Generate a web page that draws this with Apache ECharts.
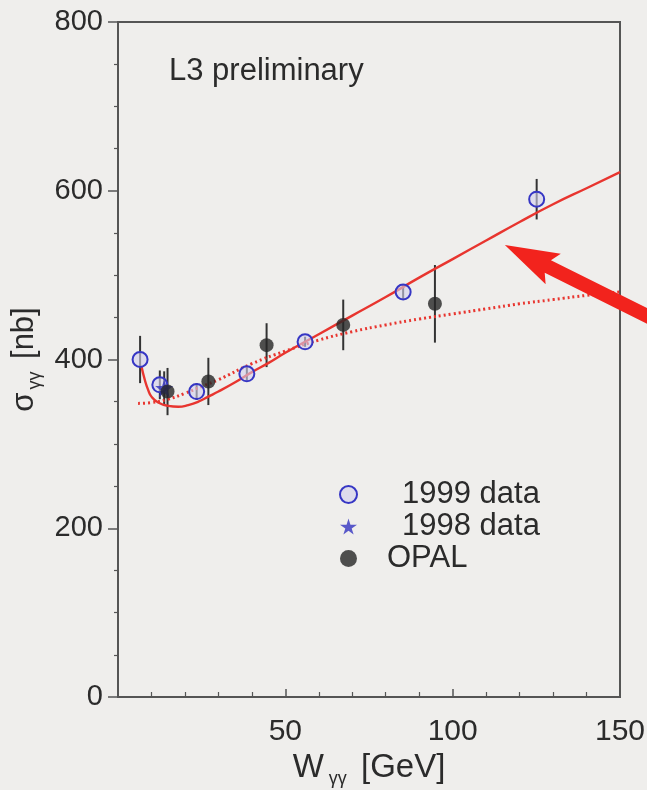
<!DOCTYPE html>
<html><head><meta charset="utf-8">
<script src="https://cdn.jsdelivr.net/npm/echarts@6/dist/echarts.min.js"></script>
<style>html,body{margin:0;padding:0;background:#efeeec;} #c{width:647px;height:790px;}</style>
</head><body><div id="c"></div>
<script>
// ---- data ----
const c1999X = [6.6, 12.5, 23.5, 38.5, 55.9, 85.2, 125.1];
const c1999Y = [400, 370, 362, 383, 421, 480, 590];
const c1999Err = [28, 17, 10, 8, 6, 9, 24];
const c1998X = [13.8];
const c1998Y = [366];
const c1998Err = [20];
const opalX = [14.8, 27.0, 44.4, 67.3, 94.7];
const opalY = [362, 374, 417, 441, 466];
const opalErr = [28, 28, 26, 30, 46];
const fitX = [7, 8, 9, 10, 12, 15, 18, 21, 24, 27, 30, 35, 40, 45, 50, 60, 70, 80, 90, 100, 110, 120, 130, 140, 150];
const fitY = [392, 376, 364, 356, 349, 345, 344, 346, 350, 356, 362, 373, 385, 396, 408, 430, 452, 474, 497, 519, 541, 563, 584, 603, 622];
const softX = [6, 10, 15, 20, 25, 30, 40, 50, 60, 70, 80, 90, 100, 110, 120, 130, 140, 150];
const softY = [348, 349, 353, 360, 368, 376, 395, 410, 423, 433, 441, 448, 454, 460, 466, 471, 476, 480];
const xTickLabels = [50, 100, 150];
const yTickLabels = [0, 200, 400, 600, 800];
const arrowTip = [115.6, 535.7];
const arrowTail = [162, 444];

const FONT = "'Liberation Sans', Arial, Helvetica, sans-serif";
const TXT = '#2b2b2b';
const pairs = (xs, ys) => xs.map((x, i) => [x, ys[i]]);
const bars = [];
[[c1999X, c1999Y, c1999Err], [c1998X, c1998Y, c1998Err], [opalX, opalY, opalErr]].forEach(([xs, ys, es]) => {
  xs.forEach((x, i) => bars.push([x, ys[i] - es[i], ys[i] + es[i]]));
});
const STAR = 'path://M50,0 L61,35 L98,35 L68,57 L79,91 L50,70 L21,91 L32,57 L2,35 L39,35 Z';

const chart = echarts.init(document.getElementById('c'), null, { renderer: 'canvas' });
chart.setOption({
  backgroundColor: '#efeeec',
  animation: false,
  textStyle: { fontFamily: FONT },
  title: {
    text: 'L3 preliminary', left: 164, top: 51,
    textStyle: { fontSize: 31, fontWeight: 'normal', color: TXT, fontFamily: FONT }
  },
  grid: { left: 118, right: 27, top: 22, bottom: 93, outerBoundsMode: 'none', containLabel: false,
          show: true, borderColor: '#555', borderWidth: 2 },
  xAxis: {
    type: 'value', min: 0, max: 150, interval: 50,
    axisLine: { lineStyle: { color: '#555', width: 2 } },
    axisTick: { inside: true, length: 8, lineStyle: { color: '#555', width: 1.5 } },
    minorTick: { show: true, splitNumber: 5, length: 5, lineStyle: { color: '#555', width: 1.2 } },
    splitLine: { show: false },
    axisLabel: {
      fontSize: 30, color: TXT, margin: 20, fontFamily: FONT,
      formatter: v => xTickLabels.indexOf(v) >= 0 ? String(v) : ''
    },
    name: 'W{sub|γγ} [GeV]', nameLocation: 'middle', nameGap: 50,
    nameTextStyle: {
      fontSize: 33, color: TXT, fontFamily: FONT,
      rich: { sub: { fontSize: 18, color: TXT, verticalAlign: 'bottom', padding: [22, 5, 0, 5] } }
    }
  },
  yAxis: {
    type: 'value', min: 0, max: 800, interval: 200,
    axisLine: { show: true, lineStyle: { color: '#555', width: 2 } },
    axisTick: { show: true, inside: false, length: 10, lineStyle: { color: '#555', width: 1.5 } },
    minorTick: { show: true, splitNumber: 4, length: 4, lineStyle: { color: '#555', width: 1.2 } },
    splitLine: { show: false },
    axisLabel: {
      fontSize: 29, color: TXT, margin: 15, fontFamily: FONT,
      formatter: v => yTickLabels.indexOf(v) >= 0 ? String(v) : ''
    },
    name: '{s|σ}{sub|γγ} [nb]', nameLocation: 'middle', nameRotate: 90, nameGap: 73,
    nameTextStyle: {
      fontSize: 31, color: TXT, fontFamily: FONT,
      rich: {
        s: { fontSize: 31, color: TXT },
        sub: { fontSize: 18, color: TXT, verticalAlign: 'bottom', padding: [20, 4, 0, 3] }
      }
    }
  },
  legend: {
    orient: 'vertical', left: 334, top: 474, itemGap: 1, itemWidth: 17, itemHeight: 17,
    data: ['1999 data', '1998 data', 'OPAL'],
    formatter: n => n === 'OPAL' ? '{q|}' + n : '{p|}' + n,
    textStyle: { fontSize: 31, color: TXT, fontFamily: FONT, rich: { p: { width: 40 }, q: { width: 25 } } }
  },
  series: [
    {
      name: 'errors', type: 'custom', z: 2, data: bars,
      renderItem: (params, api) => {
        const p1 = api.coord([api.value(0), api.value(1)]);
        const p2 = api.coord([api.value(0), api.value(2)]);
        return { type: 'line', shape: { x1: p1[0], y1: p1[1], x2: p2[0], y2: p2[1] },
                 style: { stroke: '#333', lineWidth: 2 } };
      }
    },
    {
      name: 'fit', type: 'line', smooth: true, showSymbol: false, z: 3,
      data: pairs(fitX, fitY), lineStyle: { color: '#e8352f', width: 2.4 }
    },
    {
      name: 'soft', type: 'line', smooth: true, showSymbol: false, z: 3,
      data: pairs(softX, softY), lineStyle: { color: '#e8352f', width: 3, type: [2, 3] }
    },
    {
      name: '1999 data', type: 'scatter', symbol: 'circle', symbolSize: 15, z: 4,
      data: pairs(c1999X, c1999Y),
      itemStyle: { color: 'rgba(210,208,236,0.6)', borderColor: '#3636c4', borderWidth: 2, opacity: 1 }
    },
    {
      name: '1998 data', type: 'scatter', symbol: STAR, symbolSize: 18, z: 4,
      data: pairs(c1998X, c1998Y), itemStyle: { color: '#3232c0' }
    },
    {
      name: 'OPAL', type: 'scatter', symbol: 'circle', symbolSize: 14, z: 5,
      data: pairs(opalX, opalY), itemStyle: { color: '#262626' }
    }
  ]
});

// annotation arrow, positioned in data space
const T = chart.convertToPixel({ gridIndex: 0 }, arrowTip);
const E = chart.convertToPixel({ gridIndex: 0 }, arrowTail);
const dx = E[0] - T[0], dy = E[1] - T[1], len = Math.hypot(dx, dy);
const u = [dx / len, dy / len], n = [-u[1], u[0]];
const at = (a, b) => [T[0] + u[0] * a + n[0] * b, T[1] + u[1] * a + n[1] * b];
const L = 54, H = 17, W = 7;
chart.setOption({
  graphic: [{
    type: 'polygon', z: 100,
    shape: { points: [T, at(L, H), at(L - 6, W), [E[0] + n[0] * W, E[1] + n[1] * W], [E[0] - n[0] * W, E[1] - n[1] * W], at(L - 6, -W), at(L, -H)] },
    style: { fill: '#f2231d' }
  }]
});
</script></body></html>
